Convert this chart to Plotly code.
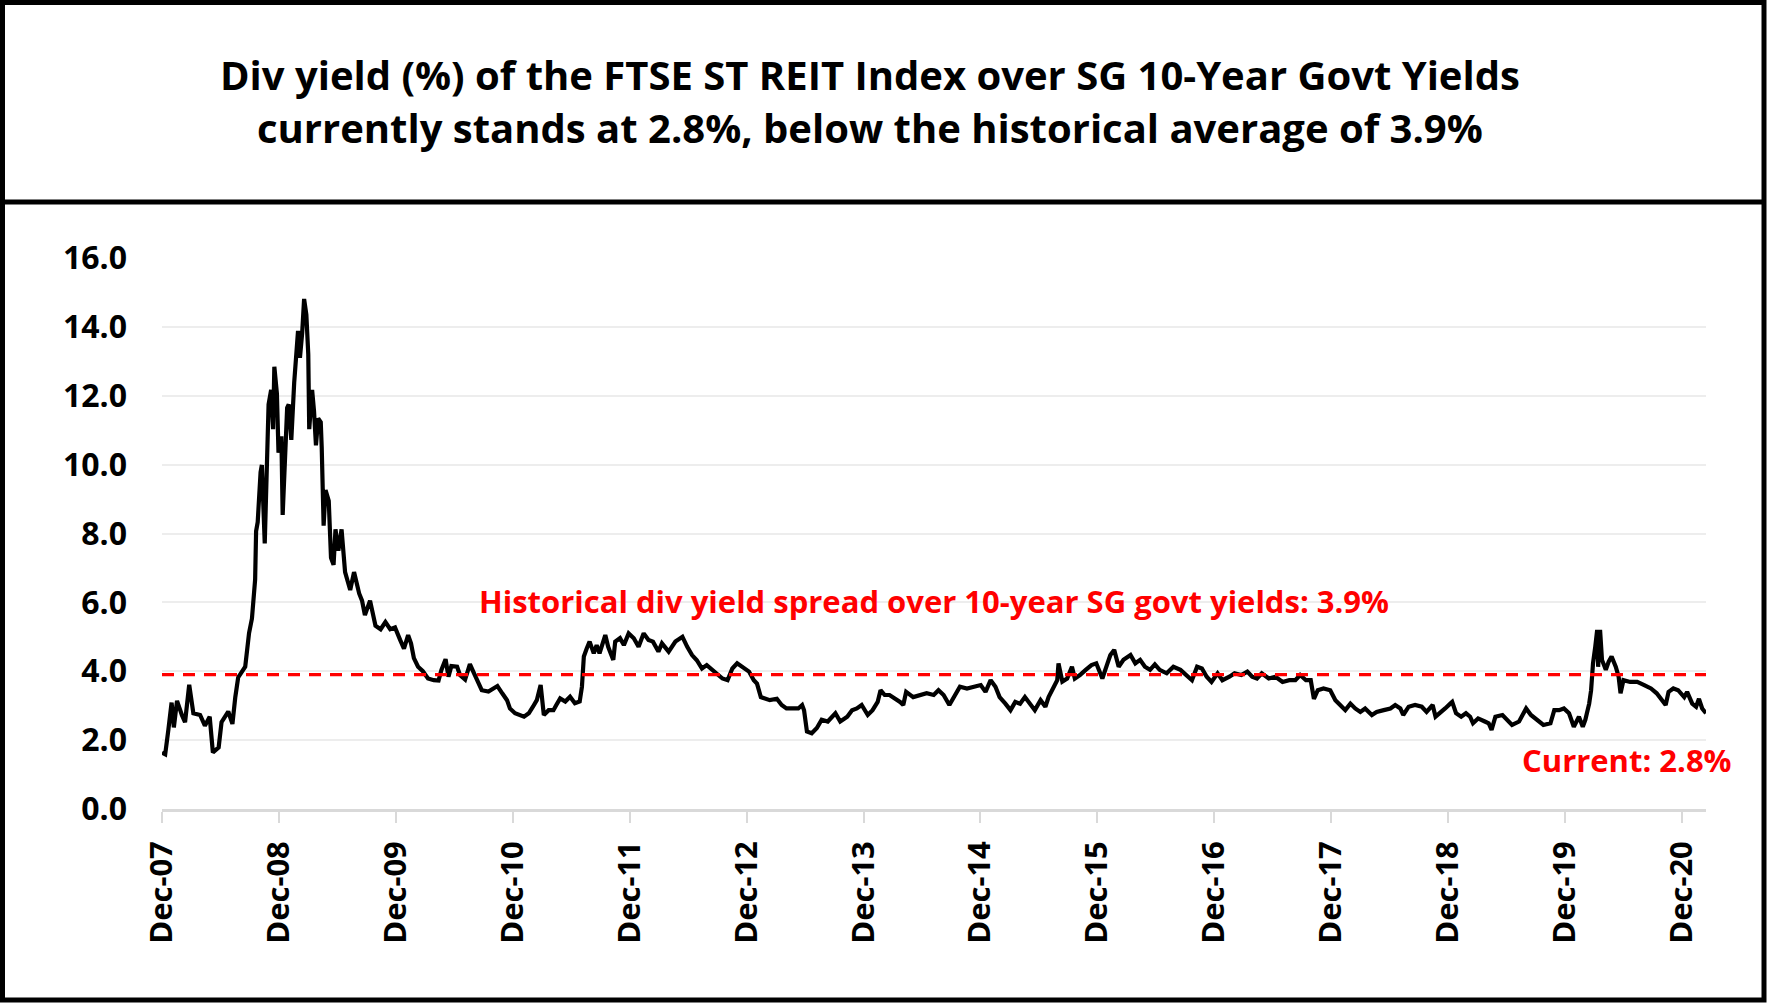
import plotly.graph_objects as go

# ---------------- data ----------------
dates = [
    "2007-12-31", "2008-01-10", "2008-01-20", "2008-01-30", "2008-02-06", "2008-02-16",
    "2008-03-02", "2008-03-12", "2008-03-25", "2008-04-07", "2008-04-28", "2008-05-13",
    "2008-05-28", "2008-06-07", "2008-06-25", "2008-07-04", "2008-07-25", "2008-08-07",
    "2008-08-16", "2008-08-25", "2008-09-16", "2008-09-28", "2008-10-07", "2008-10-17",
    "2008-10-20", "2008-10-25", "2008-11-03", "2008-11-07", "2008-11-16", "2008-11-22",
    "2008-11-28", "2008-12-06", "2008-12-12", "2008-12-16", "2008-12-24", "2008-12-29",
    "2009-01-07", "2009-01-11", "2009-01-18", "2009-01-25", "2009-01-30", "2009-02-07",
    "2009-02-16", "2009-02-22", "2009-02-28", "2009-03-06", "2009-03-13", "2009-03-19",
    "2009-03-26", "2009-04-01", "2009-04-04", "2009-04-13", "2009-04-19", "2009-04-25",
    "2009-05-02", "2009-05-10", "2009-05-13", "2009-05-19", "2009-05-25", "2009-06-04",
    "2009-06-11", "2009-06-19", "2009-06-25", "2009-07-04", "2009-07-14", "2009-07-25",
    "2009-08-10", "2009-08-22", "2009-09-07", "2009-09-16", "2009-09-25", "2009-10-11",
    "2009-10-28", "2009-11-13", "2009-11-28", "2009-12-13", "2009-12-28", "2010-01-13",
    "2010-01-25", "2010-02-07", "2010-02-16", "2010-02-25", "2010-03-10", "2010-03-25",
    "2010-04-10", "2010-04-28", "2010-05-13", "2010-05-22", "2010-06-04", "2010-06-13",
    "2010-06-22", "2010-07-10", "2010-07-19", "2010-08-04", "2010-08-19", "2010-09-01",
    "2010-09-13", "2010-09-25", "2010-10-16", "2010-11-13", "2010-11-28", "2010-12-13",
    "2010-12-22", "2011-01-07", "2011-02-04", "2011-02-19", "2011-03-04", "2011-03-16",
    "2011-03-28", "2011-04-07", "2011-04-22", "2011-05-07", "2011-05-16", "2011-05-28",
    "2011-06-13", "2011-06-28", "2011-07-13", "2011-07-28", "2011-08-04", "2011-08-10",
    "2011-08-19", "2011-08-28", "2011-09-10", "2011-09-19", "2011-09-28", "2011-10-16",
    "2011-10-25", "2011-11-10", "2011-11-16", "2011-12-01", "2011-12-13", "2011-12-28",
    "2012-01-13", "2012-01-28", "2012-02-13", "2012-02-28", "2012-03-13", "2012-03-19",
    "2012-03-30", "2012-04-10", "2012-05-01", "2012-05-22", "2012-06-13", "2012-06-28",
    "2012-07-13", "2012-07-28", "2012-08-13", "2012-08-28", "2012-09-13", "2012-09-28",
    "2012-10-16", "2012-11-01", "2012-11-16", "2012-12-01", "2012-12-16", "2013-01-07",
    "2013-01-22", "2013-02-01", "2013-02-13", "2013-02-28", "2013-03-13", "2013-04-04",
    "2013-04-19", "2013-05-04", "2013-05-25", "2013-06-10", "2013-06-22", "2013-06-28",
    "2013-07-07", "2013-07-22", "2013-08-07", "2013-08-22", "2013-09-10", "2013-09-25",
    "2013-10-04", "2013-10-19", "2013-11-10", "2013-11-25", "2013-12-10", "2013-12-25",
    "2014-01-13", "2014-01-28", "2014-02-13", "2014-02-22", "2014-03-07", "2014-03-22",
    "2014-04-10", "2014-04-25", "2014-05-04", "2014-05-13", "2014-06-04", "2014-06-25",
    "2014-07-16", "2014-08-07", "2014-08-22", "2014-09-07", "2014-09-25", "2014-10-13",
    "2014-10-28", "2014-11-19", "2014-12-10", "2015-01-01", "2015-01-16", "2015-02-01",
    "2015-02-16", "2015-03-01", "2015-03-19", "2015-04-04", "2015-04-19", "2015-05-04",
    "2015-05-19", "2015-06-04", "2015-06-19", "2015-07-07", "2015-07-22", "2015-08-01",
    "2015-08-16", "2015-08-28", "2015-09-01", "2015-09-13", "2015-09-28", "2015-10-13",
    "2015-10-22", "2015-11-07", "2015-11-25", "2015-12-13", "2015-12-28", "2016-01-16",
    "2016-02-01", "2016-02-10", "2016-02-22", "2016-03-07", "2016-03-22", "2016-04-13",
    "2016-04-28", "2016-05-13", "2016-05-28", "2016-06-13", "2016-06-28", "2016-07-13",
    "2016-08-04", "2016-08-25", "2016-09-16", "2016-10-07", "2016-10-22", "2016-11-07",
    "2016-11-22", "2016-12-07", "2016-12-22", "2017-01-10", "2017-01-25", "2017-02-16",
    "2017-03-04", "2017-03-25", "2017-04-13", "2017-04-28", "2017-05-13", "2017-05-28",
    "2017-06-19", "2017-07-10", "2017-08-01", "2017-08-22", "2017-09-10", "2017-09-25",
    "2017-10-13", "2017-10-28", "2017-11-07", "2017-11-19", "2017-12-07", "2017-12-28",
    "2018-01-13", "2018-01-28", "2018-02-13", "2018-03-01", "2018-03-16", "2018-04-01",
    "2018-04-16", "2018-05-07", "2018-05-22", "2018-06-13", "2018-07-04", "2018-07-19",
    "2018-08-04", "2018-08-13", "2018-08-30", "2018-09-19", "2018-10-10", "2018-10-25",
    "2018-11-13", "2018-11-22", "2018-12-07", "2018-12-22", "2019-01-07", "2019-01-13",
    "2019-01-25", "2019-02-10", "2019-02-25", "2019-03-10", "2019-03-19", "2019-04-04",
    "2019-04-25", "2019-05-07", "2019-05-16", "2019-05-28", "2019-06-19", "2019-07-04",
    "2019-07-19", "2019-08-10", "2019-08-19", "2019-09-01", "2019-09-16", "2019-10-07",
    "2019-10-25", "2019-11-16", "2019-11-28", "2019-12-13", "2019-12-28", "2020-01-13",
    "2020-01-28", "2020-02-13", "2020-02-25", "2020-03-04", "2020-03-16", "2020-03-22",
    "2020-03-28", "2020-04-04", "2020-04-10", "2020-04-13", "2020-04-19", "2020-04-25",
    "2020-05-07", "2020-05-16", "2020-05-25", "2020-06-07", "2020-06-16", "2020-06-22",
    "2020-07-01", "2020-07-22", "2020-08-13", "2020-09-04", "2020-09-25", "2020-10-13",
    "2020-10-28", "2020-11-10", "2020-11-19", "2020-12-04", "2020-12-19", "2021-01-07",
    "2021-01-16", "2021-02-01", "2021-02-13", "2021-02-22", "2021-03-04", "2021-03-16",
]

spread = [
    1.64, 1.59, 2.31, 3.09, 2.37, 3.14,
    2.73, 2.52, 3.61, 2.78, 2.73, 2.42,
    2.68, 1.64, 1.79, 2.52, 2.83, 2.47,
    3.25, 3.82, 4.13, 5.11, 5.53, 6.67,
    8.07, 8.33, 9.78, 9.99, 7.71, 9.78,
    11.75, 12.17, 11.03, 12.84, 12.06, 10.35,
    10.82, 8.54, 9.99, 11.65, 11.75, 10.72,
    12.38, 13.10, 13.88, 13.10, 13.83, 14.81,
    14.35, 13.20, 11.03, 12.17, 11.55, 10.56,
    11.34, 11.23, 10.51, 8.23, 9.26, 8.95,
    7.29, 7.09, 8.12, 7.50, 8.12, 6.88,
    6.36, 6.88, 6.26, 6.05, 5.63, 6.05,
    5.32, 5.22, 5.43, 5.22, 5.27, 4.91,
    4.66, 5.05, 4.81, 4.38, 4.13, 4.00,
    3.79, 3.74, 3.73, 4.04, 4.35, 3.84,
    4.15, 4.13, 3.89, 3.76, 4.21, 3.94,
    3.70, 3.45, 3.41, 3.57, 3.36, 3.16,
    2.92, 2.78, 2.68, 2.78, 2.97, 3.16,
    3.60, 2.73, 2.87, 2.87, 3.02, 3.21,
    3.12, 3.26, 3.07, 3.12, 3.55, 4.43,
    4.66, 4.86, 4.52, 4.76, 4.52, 5.05,
    4.71, 4.33, 4.86, 4.96, 4.76, 5.10,
    4.96, 4.71, 5.10, 4.91, 4.86, 4.76,
    4.57, 4.81, 4.57, 4.86, 5.00, 4.71,
    4.47, 4.32, 4.08, 4.18, 4.04, 3.94,
    3.79, 3.74, 4.08, 4.23, 4.13, 3.99,
    3.74, 3.64, 3.25, 3.20, 3.16, 3.20,
    3.02, 2.92, 2.92, 2.92, 3.02, 2.87,
    2.25, 2.20, 2.35, 2.59, 2.54, 2.68,
    2.78, 2.54, 2.68, 2.87, 2.92, 3.02,
    2.73, 2.87, 3.11, 3.45, 3.31, 3.31,
    3.20, 3.10, 3.02, 3.40, 3.25, 3.31,
    3.36, 3.31, 3.45, 3.31, 3.02, 3.31,
    3.55, 3.50, 3.55, 3.60, 3.40, 3.74,
    3.55, 3.25, 3.06, 2.87, 3.11, 3.06,
    3.25, 3.06, 2.87, 3.16, 2.97, 3.25,
    3.55, 3.74, 4.23, 3.70, 3.79, 4.13,
    3.79, 3.89, 4.04, 4.18, 4.23, 3.79,
    4.23, 4.47, 4.62, 4.13, 4.33, 4.47,
    4.23, 4.33, 4.13, 4.04, 4.20, 4.04,
    3.94, 4.13, 4.04, 3.84, 3.74, 4.13,
    4.08, 3.84, 3.69, 3.94, 3.74, 3.84,
    3.94, 3.89, 3.99, 3.84, 3.79, 3.94,
    3.79, 3.84, 3.69, 3.74, 3.74, 3.89,
    3.74, 3.74, 3.20, 3.45, 3.50, 3.45,
    3.16, 3.02, 2.87, 3.06, 2.92, 2.82,
    2.92, 2.73, 2.82, 2.87, 2.92, 3.02,
    2.92, 2.73, 2.97, 3.02, 2.97, 2.82,
    3.02, 2.68, 2.82, 2.92, 3.06, 3.11,
    2.78, 2.68, 2.78, 2.68, 2.49, 2.63,
    2.54, 2.49, 2.30, 2.68, 2.73, 2.59,
    2.44, 2.54, 2.68, 2.92, 2.73, 2.59,
    2.44, 2.49, 2.87, 2.87, 2.92, 2.78,
    2.39, 2.68, 2.39, 2.59, 3.06, 3.45,
    4.23, 4.71, 5.20, 4.13, 5.20, 4.33,
    4.04, 4.28, 4.43, 4.13, 3.84, 3.36,
    3.74, 3.69, 3.69, 3.60, 3.50, 3.36,
    3.20, 3.02, 3.40, 3.50, 3.45, 3.25,
    3.40, 3.06, 2.97, 3.20, 2.92, 2.78,
]

hist_avg = 3.9
current_value = 2.8

x_tick_dates = ["2007-12-31", "2008-12-31", "2009-12-31", "2010-12-31", "2011-12-31",
                "2012-12-31", "2013-12-31", "2014-12-31", "2015-12-31", "2016-12-31",
                "2017-12-31", "2018-12-31", "2019-12-31", "2020-12-31"]
x_tick_labels = ["Dec-07", "Dec-08", "Dec-09", "Dec-10", "Dec-11", "Dec-12", "Dec-13",
                 "Dec-14", "Dec-15", "Dec-16", "Dec-17", "Dec-18", "Dec-19", "Dec-20"]
y_ticks = [0, 2, 4, 6, 8, 10, 12, 14, 16]

title_line1 = "Div yield (%) of the FTSE ST REIT Index over SG 10-Year Govt Yields"
title_line2 = "currently stands at 2.8%, below the historical average of 3.9%"
avg_label = "Historical div yield spread over 10-year SG govt yields: 3.9%"
current_label = "Current: 2.8%"

# ---------------- layout geometry (pixels) ----------------
W, H = 1771, 1004
PL, PR, PT, PB = 162, 1706, 258, 809
FONT = "Open Sans"


def px(x, y):
    """Pixel position -> paper coordinates."""
    return (x - PL) / (PR - PL), (PB - y) / (PB - PT)


fig = go.Figure()

fig.add_trace(go.Scatter(
    x=dates, y=spread, mode="lines",
    line=dict(color="black", width=4.2),
    hoverinfo="skip", showlegend=False,
))

fig.add_trace(go.Scatter(
    x=[dates[0], dates[-1]], y=[hist_avg, hist_avg], mode="lines",
    line=dict(color="#ff0000", width=3.2, dash="12px,9px"),
    hoverinfo="skip", showlegend=False,
))

shapes = []
bx0, by0 = px(2.5, 2.5)
bx1, by1 = px(1764, 1000)
shapes.append(dict(type="rect", xref="paper", yref="paper", x0=bx0, y0=by0, x1=bx1, y1=by1,
                   line=dict(color="black", width=5), fillcolor="rgba(0,0,0,0)", layer="above"))
dx0, dy = px(2.5, 202)
dx1, _ = px(1764, 202)
shapes.append(dict(type="line", xref="paper", yref="paper", x0=dx0, y0=dy, x1=dx1, y1=dy,
                   line=dict(color="black", width=5), layer="above"))

annotations = []
for text, (x, y), size, color in [
    (title_line1, (870, 75), 40, "black"),
    (title_line2, (870, 127), 40, "black"),
    (avg_label, (934, 601), 31, "#ff0000"),
    (current_label, (1627, 760), 31, "#ff0000"),
]:
    ax, ay = px(x, y)
    annotations.append(dict(
        text="<b>%s</b>" % text, xref="paper", yref="paper", x=ax, y=ay,
        xanchor="center", yanchor="middle", showarrow=False,
        font=dict(family=FONT, size=size, color=color),
    ))

fig.update_layout(
    width=W, height=H,
    margin=dict(l=PL, r=W - PR, t=PT, b=H - PB, pad=0),
    paper_bgcolor="white", plot_bgcolor="white",
    showlegend=False,
    shapes=shapes, annotations=annotations,
    font=dict(family=FONT, color="black"),
)

fig.update_xaxes(
    type="date",
    range=[dates[0], dates[-1]],
    tickmode="array", tickvals=x_tick_dates, ticktext=["<b>%s</b>" % t for t in x_tick_labels],
    tickangle=-90,
    tickfont=dict(family=FONT, size=31, color="black"),
    showgrid=False, zeroline=False,
    showline=True, linecolor="#d9d9d9", linewidth=2.5,
    ticks="outside", ticklen=11, tickwidth=2, tickcolor="#d9d9d9",
    ticklabelstandoff=6,
)

fig.update_yaxes(
    range=[0, 16], tickmode="array", tickvals=y_ticks,
    ticktext=["<b>%.1f</b>" % v for v in y_ticks],
    tickfont=dict(family=FONT, size=32, color="black"),
    showgrid=True, gridcolor="#ededed", gridwidth=2,
    zeroline=False, showline=False,
    ticks="", ticklabelstandoff=34,
)

fig.write_html(
    "out.html",
    config={"displayModeBar": False},
    post_script="document.body.style.margin='0px';document.body.style.overflow='hidden';",
)
